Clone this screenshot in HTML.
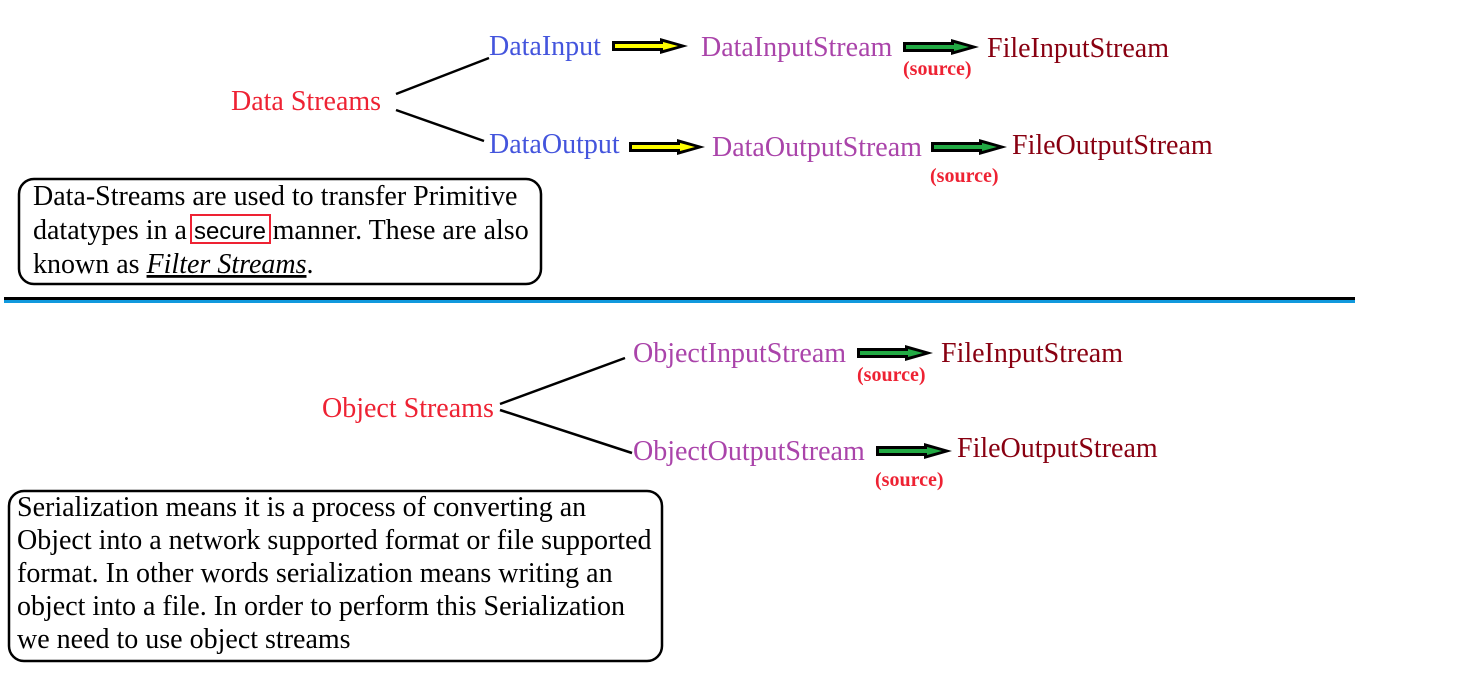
<!DOCTYPE html>
<html><head><meta charset="utf-8"><style>
html,body{margin:0;padding:0;background:#fff;}
svg{display:block;font-family:"Liberation Serif",serif;}
</style></head><body>
<svg width="1474" height="696" viewBox="0 0 1474 696" xmlns="http://www.w3.org/2000/svg">
<defs>
<g id="ay">
<polygon points="0,-5 48,-5 48,-8 76,0 48,8 48,5 0,5" fill="#000"/>
<polygon points="3,-2 51,-2 51,-4 66,0 51,4 51,2 3,2" fill="#ffff00"/>
</g>
<g id="ag">
<polygon points="0,-5 48,-5 48,-8 76,0 48,8 48,5 0,5" fill="#000"/>
<polygon points="3,-2 51,-2 51,-4 66,0 51,4 51,2 3,2" fill="#22aa44"/>
</g>
</defs>
<g font-size="28">
<text x="231" y="110" fill="#ee2233">Data Streams</text>
<text x="489" y="55" fill="#4455dd">DataInput</text>
<text x="489" y="153" fill="#4455dd">DataOutput</text>
<text x="701" y="56" fill="#aa44aa">DataInputStream</text>
<text x="712" y="156" fill="#aa44aa">DataOutputStream</text>
<text x="987" y="57" fill="#880011">FileInputStream</text>
<text x="1012" y="154" fill="#880011">FileOutputStream</text>
<text x="322" y="417" fill="#ee2233">Object Streams</text>
<text x="633" y="362" fill="#aa44aa">ObjectInputStream</text>
<text x="633" y="460" fill="#aa44aa">ObjectOutputStream</text>
<text x="941" y="362" fill="#880011">FileInputStream</text>
<text x="957" y="457" fill="#880011">FileOutputStream</text>
</g>
<g font-size="20" font-weight="bold" fill="#ee2233">
<text x="903" y="75">(source)</text>
<text x="930" y="182">(source)</text>
<text x="857" y="381">(source)</text>
<text x="875" y="486">(source)</text>
</g>
<g stroke="#000" stroke-width="2.5">
<line x1="396" y1="94" x2="489" y2="58"/>
<line x1="396" y1="110" x2="484" y2="141"/>
<line x1="500" y1="404" x2="625" y2="358"/>
<line x1="500" y1="410" x2="632" y2="453"/>
</g>
<use href="#ay" x="612" y="46"/>
<use href="#ag" x="903" y="47"/>
<use href="#ay" x="629" y="147"/>
<use href="#ag" x="931" y="147"/>
<use href="#ag" x="857" y="353"/>
<use href="#ag" x="876" y="451"/>
<rect x="19" y="179" width="522" height="105" rx="15" fill="none" stroke="#000" stroke-width="2.5"/>
<g font-size="28" fill="#000">
<text x="33" y="205">Data-Streams are used to transfer Primitive</text>
<text x="33" y="239">datatypes in a <tspan font-family="Liberation Sans, sans-serif" font-size="24">secure </tspan>manner. These are also</text>
<text x="33" y="273">known as <tspan font-style="italic" text-decoration="underline">Filter Streams</tspan>.</text>
</g>
<rect x="191" y="215" width="79" height="28" fill="none" stroke="#ee2233" stroke-width="2"/>
<rect x="4" y="297" width="1351" height="3" fill="#000"/>
<rect x="4" y="300" width="1351" height="3" fill="#1199dd"/>
<rect x="9" y="491" width="653" height="170" rx="15" fill="none" stroke="#000" stroke-width="2.5"/>
<g font-size="28" fill="#000">
<text x="17" y="516">Serialization means it is a process of converting an</text>
<text x="17" y="549">Object into a network supported format or file supported</text>
<text x="17" y="582">format. In other words serialization means writing an</text>
<text x="17" y="615">object into a file. In order to perform this Serialization</text>
<text x="17" y="648">we need to use object streams</text>
</g>
</svg>
</body></html>
